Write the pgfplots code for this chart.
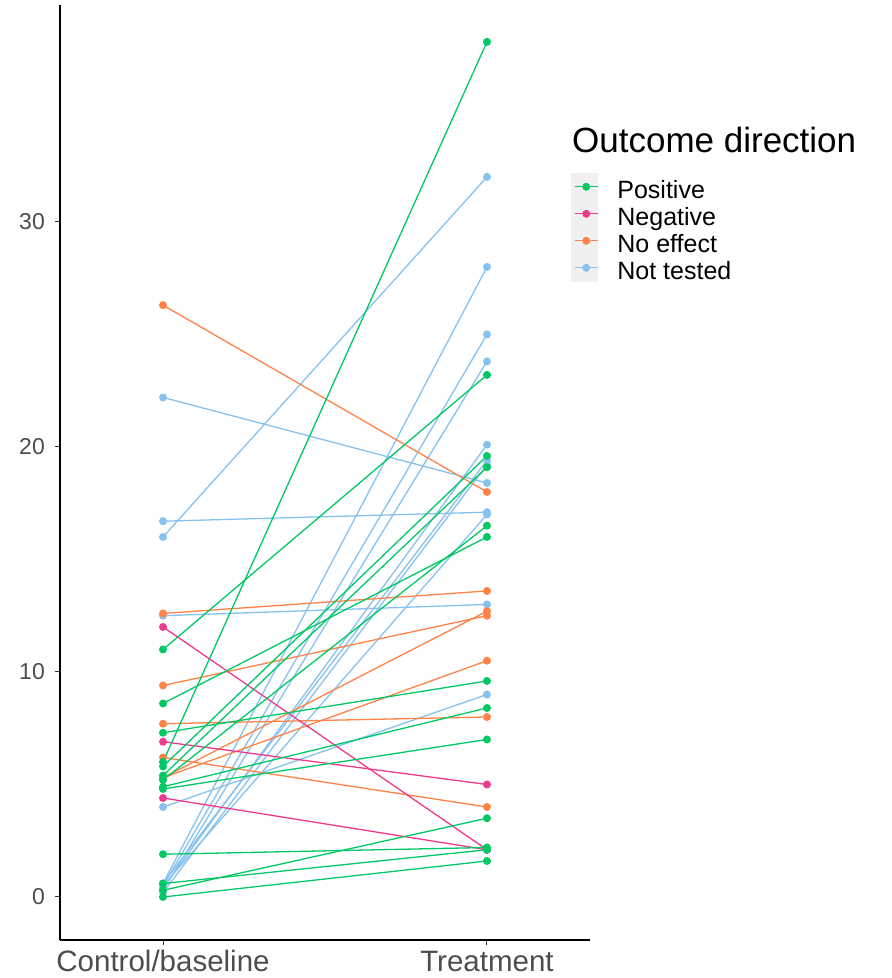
\documentclass[border=0pt]{standalone}
\usepackage{fontspec}
\setmainfont{Liberation Sans}
\usepackage{pgfplots}
\pgfplotsset{compat=1.18}
\definecolor{posc}{HTML}{00C864}
\definecolor{negc}{HTML}{EE3A8C}
\definecolor{noc}{HTML}{FF8247}
\definecolor{ntc}{HTML}{87C1EE}
\definecolor{tickc}{HTML}{4D4D4D}
\definecolor{legbg}{HTML}{F0F0F0}
\pgfplotsset{
 pos/.style={color=posc, mark=*, mark size=3.3pt, line width=1.3pt, forget plot},
 neg/.style={color=negc, mark=*, mark size=3.3pt, line width=1.3pt, forget plot},
 noe/.style={color=noc, mark=*, mark size=3.3pt, line width=1.3pt, forget plot},
 nte/.style={color=ntc, mark=*, mark size=3.3pt, line width=1.3pt, forget plot},
}
\begin{document}
\begin{tikzpicture}
\path[use as bounding box] (0,0) rectangle (892pt,978pt);
\fill[legbg] (571pt,696pt) rectangle (598pt,805pt);
\node[anchor=base west, inner sep=0pt, font=\fontsize{35}{42}\selectfont] at (572pt,825pt) {Outcome direction};
\begin{axis}[
  at={(60pt,38pt)}, anchor=south west,
  scale only axis, width=530pt, height=935pt,
  xmin=0.682, xmax=2.318, ymin=-1.911, ymax=39.64,
  axis lines*=left,
  axis line style={line width=1.3pt, black},
  xtick={1,2}, xticklabels={Control/baseline, Treatment},
  ytick={0,10,20,30},
  tick align=outside, major tick length=5pt,
  tick style={color=black!80, line width=1pt},
  /pgf/number format/assume math mode=true,
  xticklabel style={anchor=base, yshift=-26pt, inner sep=0pt, font=\fontsize{29.5}{32}\selectfont, color=tickc},
  yticklabel style={anchor=east, xshift=-10pt, inner sep=0pt, font=\fontsize{23}{28}\selectfont, color=tickc},
  legend style={at={(0.970,0.820)}, anchor=north west, draw=none, fill=none, inner sep=0pt, outer sep=0pt,
    row sep=0pt, column sep=19pt, font=\fontsize{25}{27}\selectfont,
    nodes={inner sep=0pt, text height=25pt, text depth=2pt}},
  legend cell align=left,
  legend image code/.code={\draw[mark repeat=2,mark phase=2,#1] plot coordinates {(0pt,0pt) (11.5pt,0pt) (23pt,0pt)};},
]
\addlegendimage{posc, mark=*, mark size=3.3pt, line width=1.3pt}
\addlegendentry{Positive}
\addlegendimage{negc, mark=*, mark size=3.3pt, line width=1.3pt}
\addlegendentry{Negative}
\addlegendimage{noc, mark=*, mark size=3.3pt, line width=1.3pt}
\addlegendentry{No effect}
\addlegendimage{ntc, mark=*, mark size=3.3pt, line width=1.3pt}
\addlegendentry{Not tested}
% Not tested
\addplot[nte] coordinates {(1,22.2) (2,18.4)};
\addplot[nte] coordinates {(1,16.7) (2,17.1)};
\addplot[nte] coordinates {(1,16.0) (2,32.0)};
\addplot[nte] coordinates {(1,12.5) (2,13.0)};
\addplot[nte] coordinates {(1,4.0) (2,9.0)};
\addplot[nte] coordinates {(1,0.6) (2,28.0)};
\addplot[nte] coordinates {(1,0.5) (2,25.0)};
\addplot[nte] coordinates {(1,0.3) (2,23.8)};
\addplot[nte] coordinates {(1,0.4) (2,20.1)};
\addplot[nte] coordinates {(1,0.6) (2,19.4)};
\addplot[nte] coordinates {(1,0.2) (2,19.2)};
\addplot[nte] coordinates {(1,0.5) (2,17.0)};
% No effect
\addplot[noe] coordinates {(1,26.3) (2,18.0)};
\addplot[noe] coordinates {(1,12.6) (2,13.6)};
\addplot[noe] coordinates {(1,9.4) (2,12.5)};
\addplot[noe] coordinates {(1,7.7) (2,8.0)};
\addplot[noe] coordinates {(1,6.2) (2,4.0)};
\addplot[noe] coordinates {(1,5.3) (2,12.7)};
\addplot[noe] coordinates {(1,5.3) (2,10.5)};
% Negative
\addplot[neg] coordinates {(1,12.0) (2,2.1)};
\addplot[neg] coordinates {(1,6.9) (2,5.0)};
\addplot[neg] coordinates {(1,4.4) (2,2.1)};
% Positive
\addplot[pos] coordinates {(1,11.0) (2,23.2)};
\addplot[pos] coordinates {(1,8.6) (2,16.0)};
\addplot[pos] coordinates {(1,7.3) (2,9.6)};
\addplot[pos] coordinates {(1,6.0) (2,38.0)};
\addplot[pos] coordinates {(1,5.8) (2,19.6)};
\addplot[pos] coordinates {(1,5.4) (2,19.1)};
\addplot[pos] coordinates {(1,5.2) (2,16.5)};
\addplot[pos] coordinates {(1,4.9) (2,8.4)};
\addplot[pos] coordinates {(1,4.8) (2,7.0)};
\addplot[pos] coordinates {(1,1.9) (2,2.2)};
\addplot[pos] coordinates {(1,0.6) (2,2.1)};
\addplot[pos] coordinates {(1,0.3) (2,3.5)};
\addplot[pos] coordinates {(1,0.0) (2,1.6)};
\end{axis}
\end{tikzpicture}
\end{document}
